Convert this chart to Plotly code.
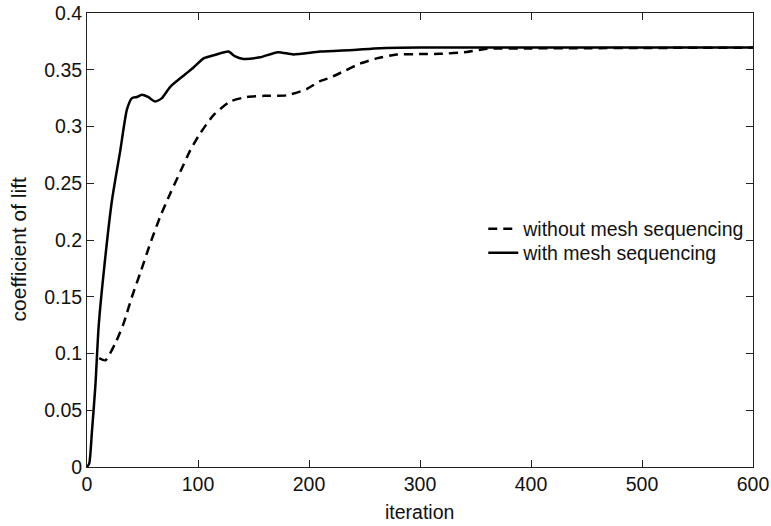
import plotly.graph_objects as go

# Data
iter_with = [0, 2, 4.5, 7.5, 10.5, 15, 22.5, 30, 36, 40.5, 45, 49.5, 55, 61.5, 67.5, 75,
             88.5, 96, 105, 115, 127.5, 133, 141, 156, 172, 186, 210, 240, 264, 300, 400, 500, 600]
cl_with = [0, 0.003, 0.032, 0.071, 0.124, 0.171, 0.235, 0.279, 0.315, 0.325, 0.326, 0.328,
           0.326, 0.322, 0.325, 0.335, 0.346, 0.352, 0.360, 0.363, 0.366, 0.362, 0.3595,
           0.361, 0.3655, 0.3635, 0.366, 0.3675, 0.369, 0.3695, 0.3695, 0.3695, 0.3695]

iter_without = [11, 16.5, 25.5, 33, 40.5, 48, 57, 66, 75, 84, 93, 102, 114, 129, 144, 160,
                180, 198, 210, 219, 232, 246, 261, 279, 300, 318, 342, 360, 400, 450, 500, 600]
cl_without = [0.096, 0.094, 0.109, 0.1266, 0.150, 0.171, 0.197, 0.2207, 0.241, 0.260, 0.279,
              0.294, 0.310, 0.322, 0.326, 0.327, 0.3275, 0.333, 0.340, 0.343, 0.349, 0.3554,
              0.360, 0.3634, 0.3638, 0.364, 0.3656, 0.3684, 0.3688, 0.369, 0.3692, 0.3695]

x_ticks = [0, 100, 200, 300, 400, 500, 600]
y_ticks = [0, 0.05, 0.1, 0.15, 0.2, 0.25, 0.3, 0.35, 0.4]
y_tick_labels = ["0", "0.05", "0.1", "0.15", "0.2", "0.25", "0.3", "0.35", "0.4"]

FONT = "Liberation Sans, Arial, Helvetica, sans-serif"
FS = 19.5
TXT = "#111"

fig = go.Figure()
fig.add_trace(go.Scatter(
    x=iter_without, y=cl_without, mode="lines", name="without mesh sequencing",
    line=dict(color="black", width=2.5, dash="9px,6px", shape="spline", smoothing=0.6),
    legend="legend",
))
fig.add_trace(go.Scatter(
    x=iter_with, y=cl_with, mode="lines", name="with mesh sequencing",
    line=dict(color="black", width=2.5, shape="spline", smoothing=0.6),
    legend="legend2",
))

axis_common = dict(
    showgrid=False, zeroline=False, showline=True, linecolor="#222", linewidth=1,
    mirror="ticks", ticks="inside", ticklen=7, tickcolor="#222", tickwidth=1,
    tickfont=dict(family=FONT, size=FS, color=TXT), automargin=False,
)

fig.update_xaxes(range=[0, 600], tickvals=x_ticks, **axis_common)
fig.update_yaxes(range=[0, 0.4], tickvals=y_ticks, ticktext=y_tick_labels, **axis_common)

fig.add_annotation(text="iteration", xref="paper", yref="paper", x=0.4985, y=-0.100,
                   xanchor="center", yanchor="middle", showarrow=False,
                   font=dict(family=FONT, size=FS, color=TXT))
fig.add_annotation(text="coefficient of lift", xref="paper", yref="paper", x=-0.103, y=0.48,
                   xanchor="center", yanchor="middle", showarrow=False, textangle=-90,
                   font=dict(family=FONT, size=21, color=TXT))

leg_common = dict(xanchor="left", yanchor="middle", bgcolor="rgba(0,0,0,0)", borderwidth=0,
                  font=dict(family=FONT, size=FS, color=TXT), itemwidth=30)

fig.update_layout(
    width=771, height=526,
    margin=dict(l=87, r=18, t=13, b=59),
    paper_bgcolor="white", plot_bgcolor="white",
    font=dict(family=FONT, size=FS, color=TXT),
    showlegend=True,
    legend=dict(x=0.595, y=0.524, **leg_common),
    legend2=dict(x=0.595, y=0.471, **leg_common),
)

fig.write_html("out.html", config={"displayModeBar": False},
               post_script="document.body.style.margin='0';document.body.style.overflow='hidden';")
